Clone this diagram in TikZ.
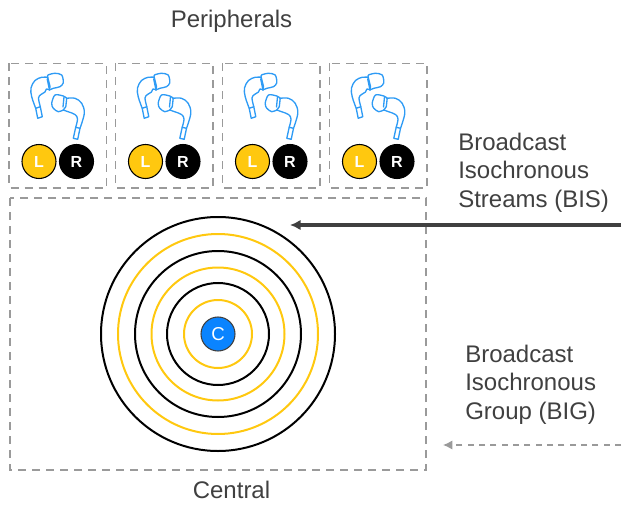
\documentclass[tikz,border=0pt]{standalone}
\usepackage{fontspec}
\usetikzlibrary{arrows.meta}
\setmainfont{Liberation Sans}
\definecolor{txt}{HTML}{404040}
\definecolor{dashc}{HTML}{9A9A9A}
\definecolor{yel}{HTML}{FFC80F}
\definecolor{blu}{HTML}{0A84FF}
\definecolor{bud}{HTML}{2E9BF5}
\tikzset{
 x=0.75pt,y=-0.75pt,
 lbl/.style={text=txt,font=\fontsize{18}{21.6}\selectfont,align=left,inner sep=0pt},
 frame/.style={draw=dashc,line width=1.2pt,dash pattern=on 6pt off 4.5pt},
 ring/.style={draw=black,line width=1.5pt},
 yring/.style={draw=yel,line width=1.5pt},
 dotl/.style={circle,draw=black,line width=0.8pt,fill=yel,minimum size=25.5pt,inner sep=0pt,text=white,font=\fontsize{12}{13}\selectfont\bfseries},
 dotr/.style={circle,draw=black,line width=0.8pt,fill=black,minimum size=25.5pt,inner sep=0pt,text=white,font=\fontsize{12}{13}\selectfont\bfseries},
 budline/.style={draw=bud,line width=1pt,line join=round,line cap=round}
}
\newcommand{\budpair}[2]{%
 \begin{scope}[shift={(#1,#2)}]
 % left bud
 \draw[budline] (35.7,108.3) -- (37.7,118.3) -- (42.3,116.7) -- (40.3,106.7) -- cycle;
 \draw[budline] plot[smooth,tension=0.6] coordinates {(35.7,108.3) (31.7,96.7) (31,88) (35,80.5) (41.7,77.3) (47.7,77.3)};
 \draw[budline] plot[smooth,tension=0.6] coordinates {(40.3,106.7) (38.5,98) (41,94.5) (45,92) (46.5,89) (49.5,90)};
 \draw[budline] plot[smooth,tension=0.5] coordinates {(47.7,77.3) (48,75) (55,73.3) (61.7,75) (63.3,82.7) (60,86.7) (53.3,88.3) (49.5,90)};
 \draw[budline] (47.7,77.3) -- (50,86.5) -- (49.5,90) -- (47.2,79);
 % right bud
 \draw[budline] (73.3,138.3) -- (77.7,139.3) -- (80,128.3) -- (75.7,127.3) -- cycle;
 \draw[budline] plot[smooth,tension=0.6] coordinates {(80,128.3) (84.3,113.3) (81.7,103.3) (75,98.3) (66.7,98.3)};
 \draw[budline] plot[smooth,tension=0.5] coordinates {(66.7,98.3) (63.3,96) (55,95) (51.7,103.3) (53.3,108.3) (58.3,111.7) (63.3,110)};
 \draw[budline] plot[smooth,tension=0.6] coordinates {(63.3,110) (68,111.7) (75,114.5) (77.5,119) (75.7,127.3)};
 \draw[budline] (66.7,98.3) -- (65.8,106.7) -- (63.3,110) (64,97) -- (63,107);
 \end{scope}}
\begin{document}
\begin{tikzpicture}
\useasboundingbox (0,0) rectangle (628,506);
\node[lbl,anchor=base] (peri) at (231.5,27.5) {Peripherals};
\node[lbl,anchor=base] (cent) at (231.5,498) {Central};
\node[lbl,anchor=north west] (bis) at (458,132.5) {Broadcast\\Isochronous\\Streams (BIS)};
\node[lbl,anchor=north west] (big) at (465,344.5) {Broadcast\\Isochronous\\Group (BIG)};
\draw[frame] (9,63.5) rectangle (106.5,188);
\draw[frame] (115.5,63.5) rectangle (213,188);
\draw[frame] (222.5,63.5) rectangle (320,188);
\draw[frame] (329.5,63.5) rectangle (427,188);
\draw[frame] (10,198) rectangle (426,470);
\foreach \dx in {0,106.5,213.5,320.5}{\budpair{\dx}{0}}
\foreach \n/\cx in {a/39,b/145.5,c/252.5,d/359.5}{\node[dotl] (L\n) at (\cx,161.5) {L};}
\foreach \n/\cx in {a/76.5,b/183,c/290,d/397}{\node[dotr] (R\n) at (\cx,161.5) {R};}
\coordinate (o) at (218,334);
\draw[ring] (o) circle (117);
\draw[yring] (o) circle (100);
\draw[ring] (o) circle (83);
\draw[yring] (o) circle (66.5);
\draw[ring] (o) circle (51);
\draw[yring] (o) circle (34);
\node[circle,draw=txt,line width=0.8pt,fill=blu,minimum size=25.5pt,inner sep=0pt,text=white,font=\fontsize{14}{15}\selectfont] (c) at (o) {C};
\coordinate (s1) at (621,225);
\coordinate (e1) at (290,225);
\coordinate (s2) at (621,445);
\coordinate (e2) at (443,445);
\draw[line width=2.6pt,draw=txt,-{Latex[length=8pt,width=8pt]}] (s1) -- (e1);
\draw[line width=1.1pt,draw=dashc,dash pattern=on 4.5pt off 4pt,-{Latex[length=7pt,width=7pt]}] (s2) -- (e2);
\end{tikzpicture}
\end{document}
